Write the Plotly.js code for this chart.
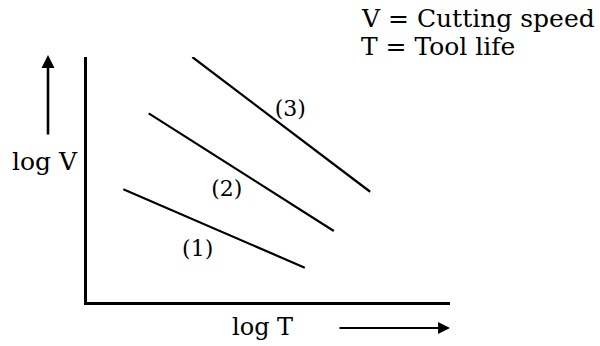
<!DOCTYPE html>
<html>
<head>
<meta charset="utf-8">
<script src="https://cdn.plot.ly/plotly-3.0.1.min.js"></script>
<style>
html,body{margin:0;padding:0;background:#fff;}
#chart{width:600px;height:346px;}
</style>
</head>
<body>
<div id="chart"></div>
<script>
// Data (arbitrary linear units on log-log axes, range 0..10)
var curveNames = ["(1)", "(2)", "(3)"];
var logT1 = [1.0, 6.0];
var logV1 = [4.6, 1.4];
var logT2 = [1.7, 6.8];
var logV2 = [7.7, 2.9];
var logT3 = [2.9, 7.8];
var logV3 = [10.0, 4.5];
var labelT = [3.05, 3.85, 5.6];
var labelV = [2.12, 4.57, 7.82];
var legendLines = ["V = Cutting speed", "T = Tool life"];
var xAxisLabel = "log T";
var yAxisLabel = "log V";

var FONT = "DejaVu Serif, serif";
var W = 600, H = 346;
var M = {l: 87, r: 150, t: 57, b: 44};
var PW = W - M.l - M.r, PH = H - M.t - M.b;
function px(x){ return (x - M.l) / PW; }
function py(y){ return (H - M.b - y) / PH; }

var lineStyle = {color: "#000", width: 2.2};
var traces = [
  {x: logT1, y: logV1, mode: "lines", line: lineStyle, name: curveNames[0], hoverinfo: "skip"},
  {x: logT2, y: logV2, mode: "lines", line: lineStyle, name: curveNames[1], hoverinfo: "skip"},
  {x: logT3, y: logV3, mode: "lines", line: lineStyle, name: curveNames[2], hoverinfo: "skip"},
  {x: labelT, y: labelV, mode: "text", text: curveNames, textposition: "middle center",
   textfont: {family: FONT, size: 22, color: "#000"}, hoverinfo: "skip", cliponaxis: false}
];

var big = {family: FONT, size: 25, color: "#000"};
var mid = {family: FONT, size: 24, color: "#000"};
var annotations = [
  {xref: "paper", yref: "paper", x: px(45), y: py(161), text: yAxisLabel, showarrow: false,
   xanchor: "center", yanchor: "middle", font: big},
  {xref: "paper", yref: "paper", x: px(262), y: py(327), text: xAxisLabel, showarrow: false,
   xanchor: "center", yanchor: "middle", font: mid},
  {xref: "paper", yref: "paper", x: px(359), y: py(19), text: legendLines[0], showarrow: false,
   xanchor: "left", yanchor: "middle", font: big},
  {xref: "paper", yref: "paper", x: px(359), y: py(47), text: legendLines[1], showarrow: false,
   xanchor: "left", yanchor: "middle", font: big},
  // up arrow beside log V
  {xref: "paper", yref: "paper", x: px(48), y: py(55), ax: 0, ay: 81, text: "", showarrow: true,
   arrowhead: 2, arrowsize: 1, arrowwidth: 2.6, arrowcolor: "#000", standoff: 0, startstandoff: 0},
  // right arrow beside log T
  {xref: "paper", yref: "paper", x: px(450), y: py(328), ax: -112, ay: 0, text: "", showarrow: true,
   arrowhead: 2, arrowsize: 1.2, arrowwidth: 2, arrowcolor: "#000", standoff: 0, startstandoff: 0}
];

var layout = {
  width: W, height: H,
  margin: M,
  paper_bgcolor: "#fff", plot_bgcolor: "#fff",
  showlegend: false,
  xaxis: {range: [0, 10], showline: true, linecolor: "#000", linewidth: 3, showgrid: false,
          zeroline: false, showticklabels: false, ticks: "", fixedrange: true},
  yaxis: {range: [0, 10], showline: true, linecolor: "#000", linewidth: 3, showgrid: false,
          zeroline: false, showticklabels: false, ticks: "", fixedrange: true},
  annotations: annotations
};

Plotly.newPlot("chart", traces, layout, {displayModeBar: false, staticPlot: true});
</script>
</body>
</html>
